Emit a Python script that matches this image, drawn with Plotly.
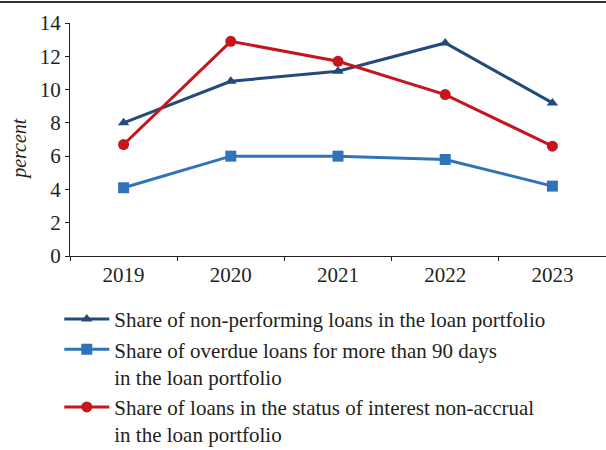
import plotly.graph_objects as go

# Loan portfolio quality indicators, percent
years = ["2019", "2020", "2021", "2022", "2023"]
npl_share = [8.0, 10.5, 11.1, 12.8, 9.2]
overdue_90_share = [4.1, 6.0, 6.0, 5.8, 4.2]
non_accrual_share = [6.7, 12.9, 11.7, 9.7, 6.6]

series_names = [
    "Share of non-performing loans in the loan portfolio",
    "Share of overdue loans for more than 90 days<br>in the loan portfolio",
    "Share of loans in the status of interest non-accrual<br>in the loan portfolio",
]

DARK_BLUE = "#224a7c"
LIGHT_BLUE = "#2f74bb"
RED = "#c4161c"
TEXT = "#231f20"
FONT = "Times New Roman, Liberation Serif, serif"

fig = go.Figure()
fig.add_trace(go.Scatter(
    x=years, y=npl_share, name=series_names[0], mode="lines+markers",
    line=dict(color=DARK_BLUE, width=3),
    marker=dict(symbol="triangle-up", size=10, color=DARK_BLUE),
))
fig.add_trace(go.Scatter(
    x=years, y=overdue_90_share, name=series_names[1], mode="lines+markers",
    line=dict(color=LIGHT_BLUE, width=3),
    marker=dict(symbol="square", size=11, color=LIGHT_BLUE),
))
fig.add_trace(go.Scatter(
    x=years, y=non_accrual_share, name=series_names[2], mode="lines+markers",
    line=dict(color=RED, width=3),
    marker=dict(symbol="circle", size=11, color=RED),
))

# rule across the top of the figure
fig.add_shape(
    type="line", xref="paper", yref="paper",
    x0=-70 / 536, x1=1.0, y0=1 + 21 / 233, y1=1 + 21 / 233,
    line=dict(color="#333333", width=2),
)

# vertical unit label beside the value axis
fig.add_annotation(
    text="<i>percent</i>", xref="paper", yref="paper",
    x=-50 / 536, y=0.46, xanchor="center", yanchor="middle",
    textangle=-90, showarrow=False,
    font=dict(family=FONT, size=20, color=TEXT),
)

fig.update_layout(
    width=606, height=450,
    margin=dict(l=70, r=0, t=23, b=194, autoexpand=False),
    paper_bgcolor="white", plot_bgcolor="white",
    font=dict(family=FONT, size=21, color=TEXT),
    showlegend=True,
    legend=dict(
        x=-0.02, y=-0.184, xanchor="left", yanchor="top",
        font=dict(family=FONT, size=21, color=TEXT),
        valign="top", tracegroupgap=3, itemwidth=45,
        bgcolor="rgba(0,0,0,0)",
    ),
    xaxis=dict(
        type="category", range=[-0.5, 4.5],
        showline=True, linecolor=TEXT, linewidth=1,
        ticks="outside", tickson="boundaries", ticklen=4, tickcolor=TEXT,
        showgrid=False, zeroline=False,
        tickfont=dict(family=FONT, size=21),
    ),
    yaxis=dict(
        range=[0, 14], dtick=2,
        showline=True, linecolor=TEXT, linewidth=1,
        ticks="outside", ticklen=4, tickcolor=TEXT,
        showgrid=False, zeroline=False,
        tickfont=dict(family=FONT, size=21),
    ),
)

fig.write_html("out.html")
